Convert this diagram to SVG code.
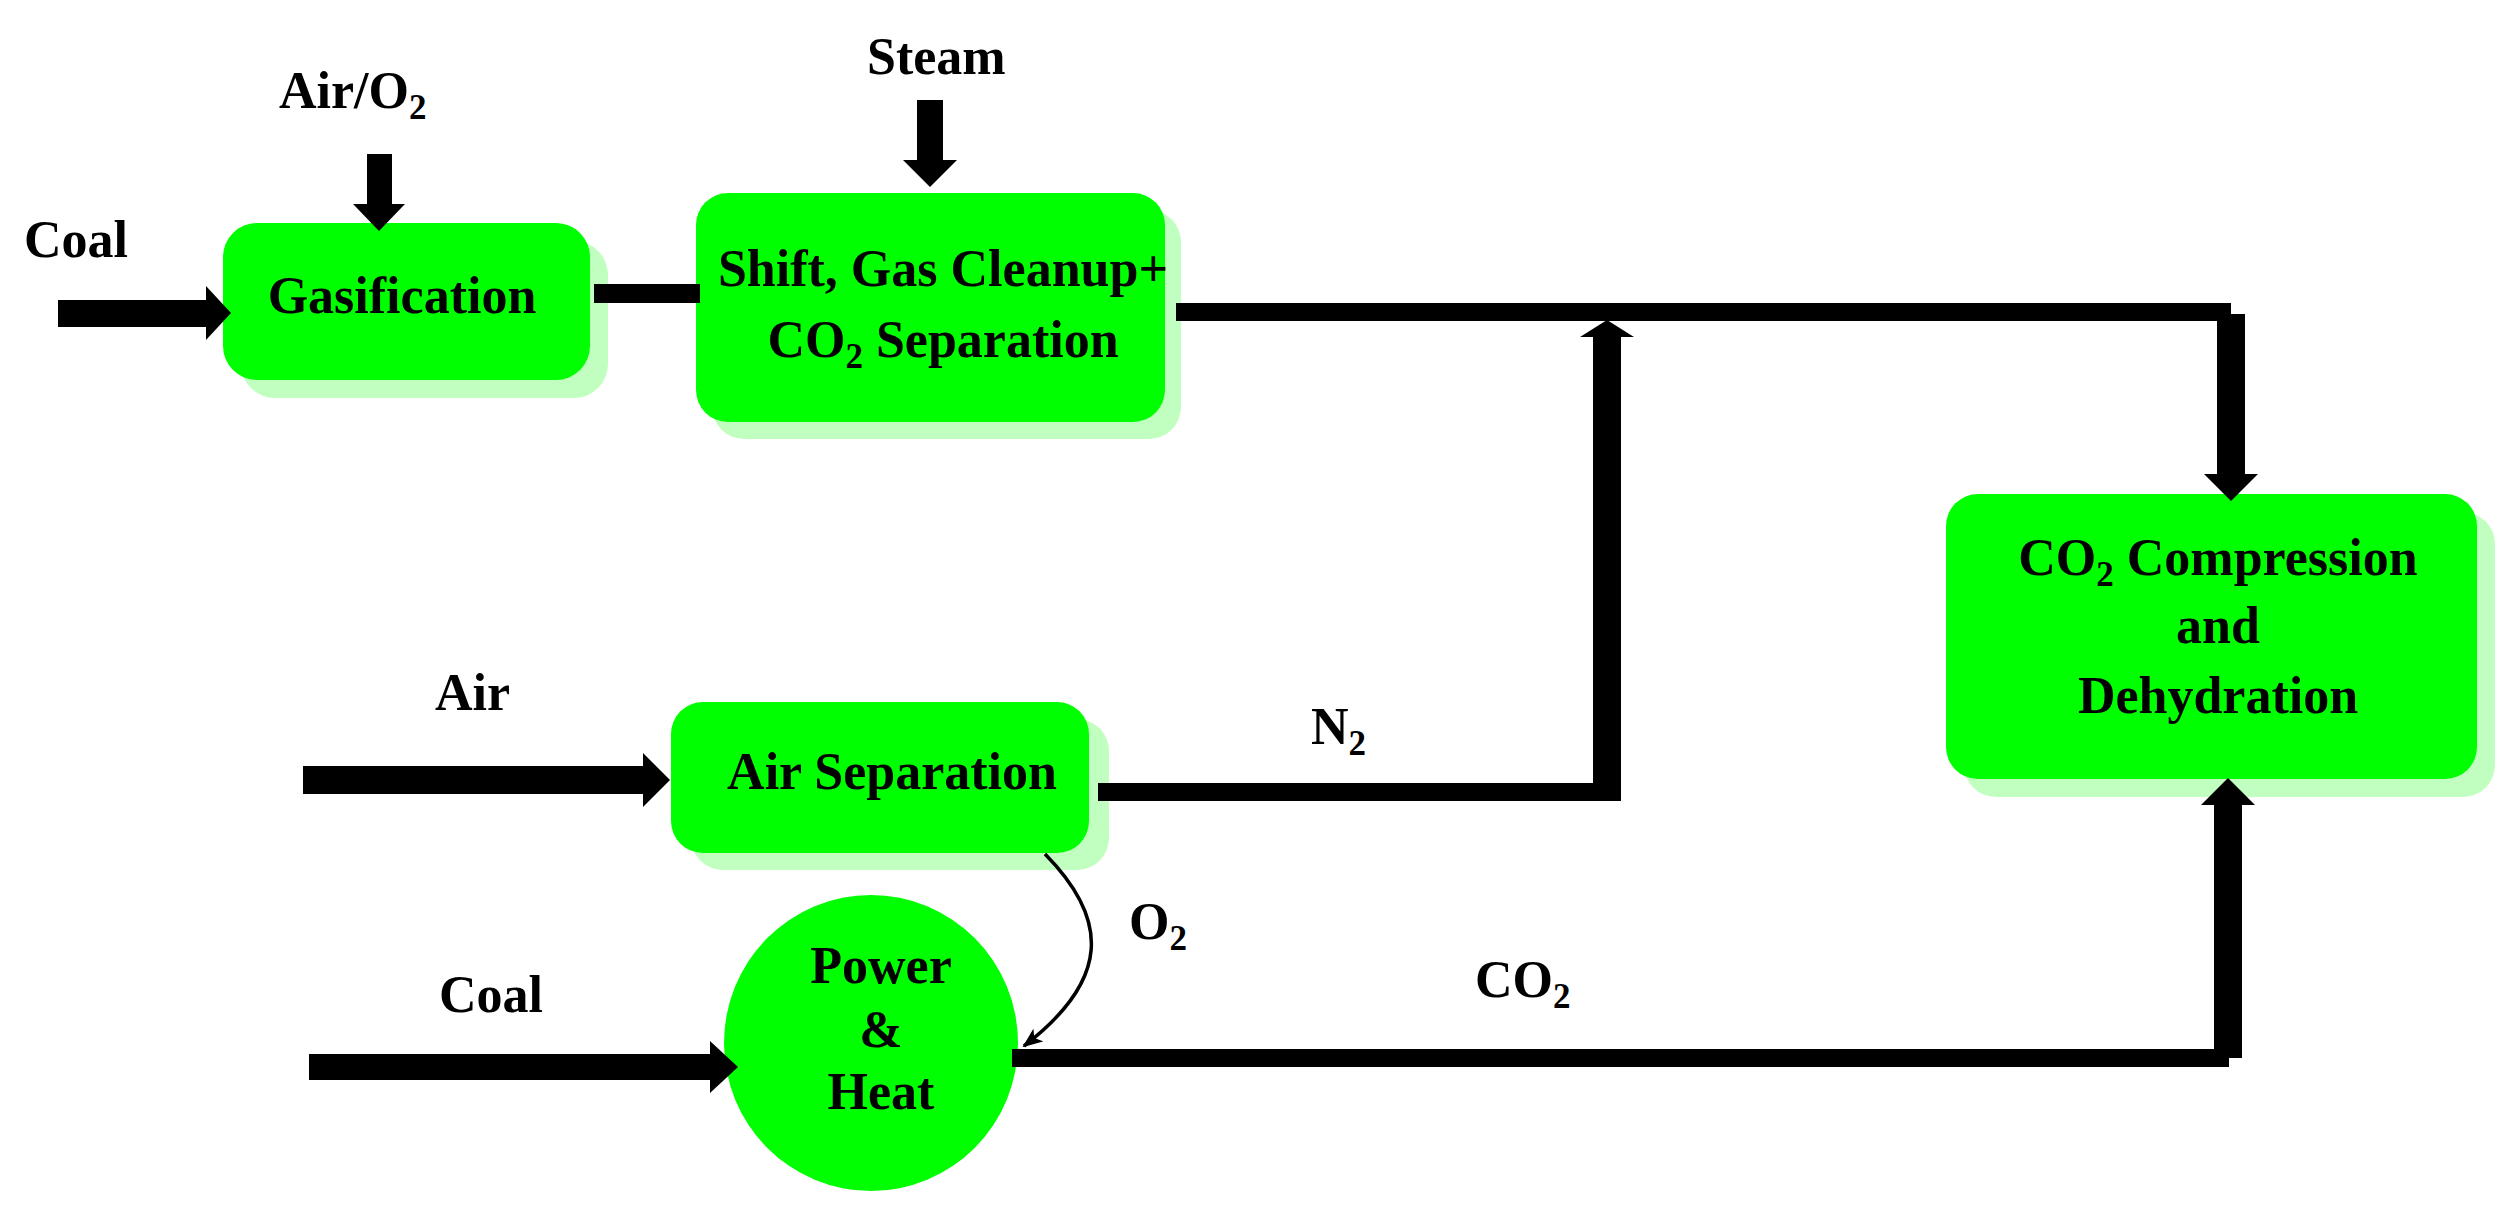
<svg xmlns="http://www.w3.org/2000/svg" width="2516" height="1217" viewBox="0 0 2516 1217">
<style>
.t{font-family:"Liberation Serif","Times New Roman",serif;font-weight:bold;font-size:52px;fill:#000}
.s{font-size:35px}
.box{fill:#00FF00}
.sh{fill:#C0FFC0}
.ln{fill:#000}
.thin{fill:none;stroke:#000;stroke-width:3.5}
</style>
<defs>
<marker id="v" viewBox="0 0 20 16" refX="18" refY="8" markerWidth="20" markerHeight="16" markerUnits="userSpaceOnUse" orient="auto">
<path d="M0,0 L20,8 L0,16 L5,8 z" fill="#000"/>
</marker>
</defs>
<rect width="2516" height="1217" fill="#fff"/>

<g id="gasification">
<rect class="sh" x="241" y="241" width="367" height="157" rx="34"/>
<rect class="box" x="223" y="223" width="367" height="157" rx="34"/>
<text class="t" x="402" y="313" text-anchor="middle">Gasification</text>
</g>

<g id="shift">
<rect class="sh" x="712" y="210" width="469" height="229" rx="32"/>
<rect class="box" x="696" y="193" width="469" height="229" rx="32"/>
<text class="t" x="943" y="286" text-anchor="middle">Shift, Gas Cleanup+</text>
<text class="t" x="943" y="357" text-anchor="middle">CO<tspan class="s" dy="11">2</tspan><tspan dy="-11"> Separation</tspan></text>
</g>

<g id="co2comp">
<rect class="sh" x="1964" y="512" width="531" height="285" rx="32"/>
<rect class="box" x="1946" y="494" width="531" height="285" rx="32"/>
<text class="t" x="2218" y="575" text-anchor="middle">CO<tspan class="s" dy="11">2</tspan><tspan dy="-11"> Compression</tspan></text>
<text class="t" x="2218" y="643" text-anchor="middle">and</text>
<text class="t" x="2218" y="713" text-anchor="middle">Dehydration</text>
</g>

<g id="airsep">
<rect class="sh" x="691" y="719" width="418" height="151" rx="32"/>
<rect class="box" x="671" y="702" width="418" height="151" rx="32"/>
<text class="t" x="892" y="789" text-anchor="middle">Air Separation</text>
</g>

<g id="power">
<ellipse class="box" cx="871" cy="1043" rx="147" ry="148"/>
<text class="t" x="881" y="983" text-anchor="middle">Power</text>
<text class="t" x="881" y="1047" text-anchor="middle">&amp;</text>
<text class="t" x="881" y="1109" text-anchor="middle">Heat</text>
</g>

<g id="labels">
<text class="t" x="24" y="257">Coal</text>
<text class="t" x="279" y="108">Air/O<tspan class="s" dy="11">2</tspan></text>
<text class="t" x="867" y="74">Steam</text>
<text class="t" x="435" y="710">Air</text>
<text class="t" x="439" y="1012">Coal</text>
<text class="t" x="1311" y="744">N<tspan class="s" dy="11">2</tspan></text>
<text class="t" x="1129" y="939">O<tspan class="s" dy="11">2</tspan></text>
<text class="t" x="1475" y="997">CO<tspan class="s" dy="11">2</tspan></text>
</g>

<g id="connectors">
<!-- Coal (top) -->
<rect class="ln" x="58" y="300" width="150" height="27"/>
<polygon class="ln" points="206,286 231,313 206,340"/>
<!-- Air/O2 -->
<rect class="ln" x="367" y="154" width="25" height="52"/>
<polygon class="ln" points="353,204 405,204 379,231"/>
<!-- Gasification to Shift -->
<rect class="ln" x="594" y="284" width="106" height="19"/>
<!-- Steam -->
<rect class="ln" x="917" y="100" width="26" height="62"/>
<polygon class="ln" points="903,160 957,160 930,187"/>
<!-- Shift to CO2 compression -->
<rect class="ln" x="1176" y="303" width="1055" height="18"/>
<rect class="ln" x="2217" y="314" width="28" height="162"/>
<polygon class="ln" points="2204,474 2258,474 2231,501"/>
<!-- Air -->
<rect class="ln" x="303" y="766" width="342" height="28"/>
<polygon class="ln" points="643,753 670,780 643,807"/>
<!-- N2 -->
<rect class="ln" x="1098" y="783" width="522" height="18"/>
<rect class="ln" x="1593" y="336" width="28" height="465"/>
<polygon class="ln" points="1580,337 1634,337 1607,320"/>
<!-- Coal (bottom) -->
<rect class="ln" x="309" y="1054" width="403" height="26"/>
<polygon class="ln" points="710,1041 738,1067 710,1093"/>
<!-- O2 -->
<path class="thin" d="M1045,854 C1110,920 1110,980 1024,1046" marker-end="url(#v)"/>
<!-- CO2 -->
<rect class="ln" x="1012" y="1049" width="1217" height="18"/>
<rect class="ln" x="2214" y="803" width="28" height="255"/>
<polygon class="ln" points="2201,805 2255,805 2228,778"/>
</g>
</svg>
